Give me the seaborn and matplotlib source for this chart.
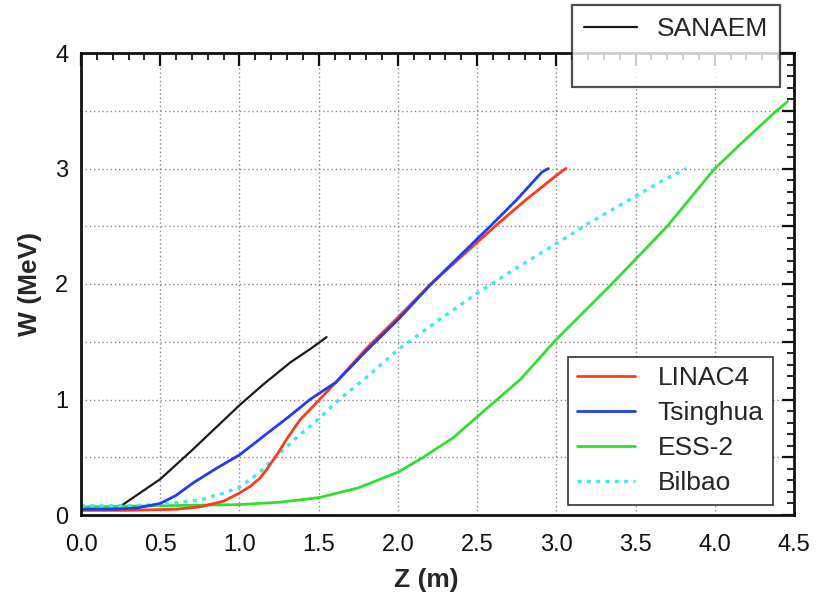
import matplotlib
matplotlib.use("Agg")
import matplotlib.pyplot as plt
import seaborn as sns
from matplotlib.ticker import MultipleLocator, FuncFormatter
from matplotlib.lines import Line2D

sns.set_theme(style="white")
plt.rcParams['font.family'] = ['Liberation Sans', 'DejaVu Sans']

# ---------------- data ----------------
sanaem_z = [0.0, 0.1, 0.2, 0.265, 0.35, 0.5, 0.7, 0.9, 1.0, 1.15, 1.32, 1.45, 1.55]
sanaem_w = [0.06, 0.06, 0.06, 0.09, 0.17, 0.31, 0.56, 0.82, 0.95, 1.13, 1.32, 1.44, 1.54]

linac4_z = [0.0, 0.3, 0.6, 0.75, 0.9, 1.0, 1.07, 1.13, 1.17, 1.24, 1.3, 1.38, 1.45,
            1.52, 1.61, 1.8, 2.0, 2.2, 2.5, 2.63, 2.8, 3.0, 3.06]
linac4_w = [0.04, 0.04, 0.05, 0.07, 0.12, 0.19, 0.25, 0.32, 0.39, 0.53, 0.66, 0.82, 0.92,
            1.02, 1.15, 1.44, 1.71, 1.99, 2.36, 2.52, 2.72, 2.94, 3.0]

tsinghua_z = [0.0, 0.2, 0.35, 0.5, 0.6, 0.71, 0.85, 1.0, 1.15, 1.32, 1.445, 1.61,
              1.8, 2.0, 2.21, 2.5, 2.59, 2.75, 2.91, 2.95]
tsinghua_w = [0.05, 0.05, 0.06, 0.10, 0.17, 0.28, 0.40, 0.52, 0.68, 0.86, 1.0, 1.15,
              1.42, 1.69, 2.0, 2.39, 2.51, 2.73, 2.97, 3.0]

ess2_z = [0.0, 0.5, 1.0, 1.25, 1.5, 1.75, 2.0, 2.16, 2.35, 2.5, 2.77, 3.0, 3.35,
          3.7, 4.0, 4.2, 4.39, 4.46]
ess2_w = [0.07, 0.08, 0.09, 0.11, 0.15, 0.235, 0.37, 0.50, 0.67, 0.85, 1.17, 1.52, 2.0,
          2.5, 3.0, 3.26, 3.5, 3.58]

bilbao_z = [0.0, 0.3, 0.5, 0.75, 0.9, 1.0, 1.12, 1.24, 1.36, 1.49, 1.63, 1.8, 2.0,
            2.25, 2.5, 2.75, 3.0, 3.21, 3.5, 3.65, 3.82]
bilbao_w = [0.08, 0.08, 0.09, 0.13, 0.19, 0.24, 0.36, 0.52, 0.67, 0.82, 1.0, 1.19, 1.43,
            1.68, 1.92, 2.14, 2.35, 2.53, 2.76, 2.88, 3.0]

y_labels = [0, 1, 2, 3, 4]

# ---------------- figure ----------------
fig = plt.figure(figsize=(8.18, 5.94), dpi=100)
ax = fig.add_axes([81/818, 1 - 515/594, (794-81)/818, (515-53)/594])

c_red, c_blue, c_green, c_cyan, c_black = '#ff3a1c', '#1f3cf5', '#2ee02e', '#3fe8f2', '#1a1a1a'
dot = (0, (1.2, 1.6))

sns.lineplot(x=sanaem_z, y=sanaem_w, ax=ax, color=c_black, lw=1.6, sort=False, estimator=None)
sns.lineplot(x=ess2_z, y=ess2_w, ax=ax, color=c_green, lw=2.0, sort=False, estimator=None)
sns.lineplot(x=bilbao_z, y=bilbao_w, ax=ax, color=c_cyan, lw=2.4, ls=dot,
             sort=False, estimator=None)
sns.lineplot(x=linac4_z, y=linac4_w, ax=ax, color=c_red, lw=2.0, sort=False, estimator=None)
sns.lineplot(x=tsinghua_z, y=tsinghua_w, ax=ax, color=c_blue, lw=2.0, sort=False, estimator=None)

ax.set_xlim(0, 4.5)
ax.set_ylim(0, 4)
ax.xaxis.set_major_locator(MultipleLocator(0.5))
ax.xaxis.set_minor_locator(MultipleLocator(0.1))
ax.yaxis.set_major_locator(MultipleLocator(0.5))
ax.yaxis.set_minor_locator(MultipleLocator(0.1))
ax.xaxis.set_major_formatter(FuncFormatter(lambda v, p: f"{v:.1f}"))
ax.yaxis.set_major_formatter(FuncFormatter(
    lambda v, p: f"{int(round(v))}" if abs(v - round(v)) < 1e-6 and int(round(v)) in y_labels else ""))

ax.tick_params(which='both', direction='in', top=True, right=True, colors='#111111',
               labelsize=17, labelcolor='#111111')
ax.tick_params(which='major', length=9, width=1.6)
ax.tick_params(axis='x', which='major', pad=14)
ax.tick_params(axis='y', which='major', pad=9)
ax.tick_params(which='minor', length=5, width=1.3)

ax.grid(True, which='major', color='#8a8a8a', ls=(0, (1, 2)), lw=1.0)
for s in ax.spines.values():
    s.set_color('#111111')
    s.set_linewidth(2.0)

ax.set_xlabel('Z (m)', fontsize=19, fontweight='bold')
ax.set_ylabel('W (MeV)', fontsize=19, fontweight='bold')
ax.xaxis.set_label_coords((426 - 81) / 713, -53 / 462)
ax.yaxis.set_label_coords((42 - 81) / 713, 0.5)

# ---------------- legends ----------------
h = [Line2D([], [], color=c_red, lw=2.0),
     Line2D([], [], color=c_blue, lw=2.0),
     Line2D([], [], color=c_green, lw=2.0),
     Line2D([], [], color=c_cyan, lw=2.4, ls=dot)]
leg1 = ax.legend(h, ['LINAC4', 'Tsinghua', 'ESS-2', 'Bilbao'], loc='upper left',
                 bbox_to_anchor=(568/818, 1 - 357/594), bbox_transform=fig.transFigure,
                 borderaxespad=0, fontsize=19, frameon=True, fancybox=False,
                 edgecolor='#333333', framealpha=1.0, handlelength=2.2, handletextpad=0.85,
                 labelspacing=0.42, borderpad=0.35)
leg1.get_frame().set_linewidth(1.2)
ax.add_artist(leg1)

h2 = [Line2D([], [], color=c_black, lw=1.6), Line2D([], [], color='none')]
leg2 = ax.legend(h2, ['SANAEM', ' '], loc='upper left',
                 bbox_to_anchor=(572/818, 1 - 5/594), bbox_transform=fig.transFigure,
                 borderaxespad=0, fontsize=19, frameon=True, fancybox=False,
                 edgecolor='#222222', framealpha=0.8, handlelength=2.0, handletextpad=0.75,
                 labelspacing=0.38, borderpad=0.45)
leg2.get_frame().set_linewidth(1.6)

fig.savefig('out.png', dpi=100)
